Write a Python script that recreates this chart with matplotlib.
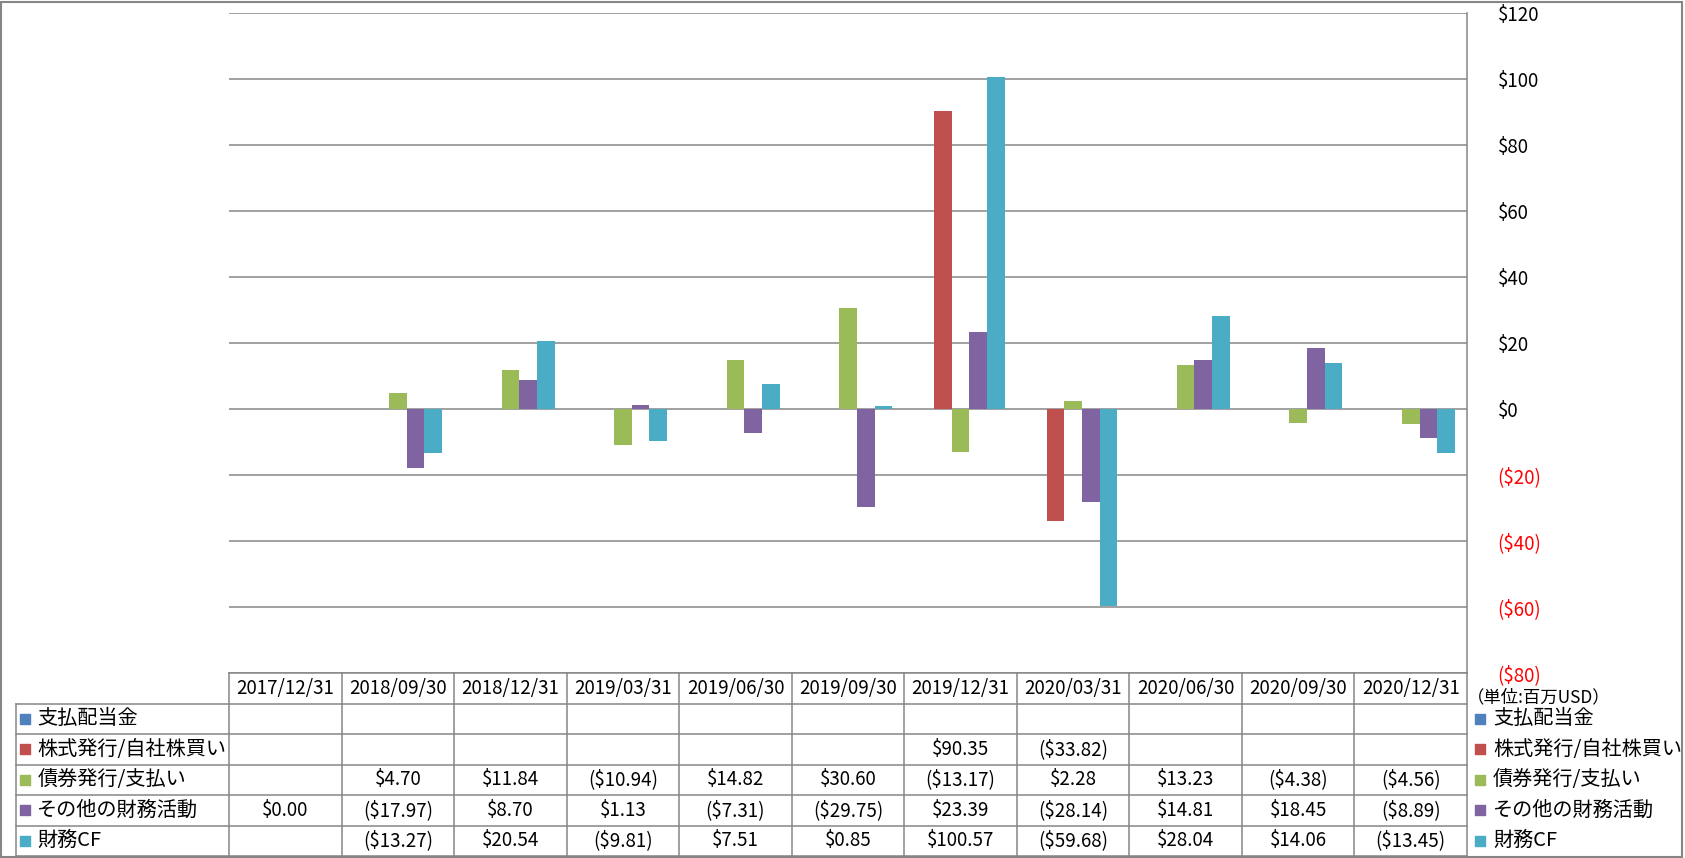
import numpy as np
import matplotlib.pyplot as plt
from matplotlib.patches import Rectangle

plt.rcParams['font.family'] = ['Noto Sans CJK JP', 'DejaVu Sans']

# data (百万USD)
dates = ['2017/12/31', '2018/09/30', '2018/12/31', '2019/03/31', '2019/06/30', '2019/09/30',
         '2019/12/31', '2020/03/31', '2020/06/30', '2020/09/30', '2020/12/31']
nan = np.nan
dividends = [nan] * 11
stock = [nan, nan, nan, nan, nan, nan, 90.35, -33.82, nan, nan, nan]
bonds = [nan, 4.70, 11.84, -10.94, 14.82, 30.60, -13.17, 2.28, 13.23, -4.38, -4.56]
other = [0.00, -17.97, 8.70, 1.13, -7.31, -29.75, 23.39, -28.14, 14.81, 18.45, -8.89]
fin_cf = [nan, -13.27, 20.54, -9.81, 7.51, 0.85, 100.57, -59.68, 28.04, 14.06, -13.45]

series_names = ['支払配当金', '株式発行/自社株買い', '債券発行/支払い', 'その他の財務活動', '財務CF']
series_vals = [dividends, stock, bonds, other, fin_cf]
colors = ['#4F81BD', '#C0504D', '#9BBB59', '#8064A2', '#4BACC6']

grid_c = '#868686'
W, H = 1685, 858
fig = plt.figure(figsize=(W / 100, H / 100), dpi=100)

# outer border
fig.patches.append(Rectangle((0.0005, 0.001), 0.998, 0.997, transform=fig.transFigure,
                             fill=False, edgecolor=grid_c, linewidth=1.5))

x0, x1 = 229 / W, 1467 / W
ax = fig.add_axes([x0, 1 - 673 / H, x1 - x0, (673 - 13) / H])
n = len(dates)
x = np.arange(n)
bw = 0.157
for k, (vals, c) in enumerate(zip(series_vals, colors)):
    ax.bar(x + (k - 2) * bw, vals, width=bw, color=c, zorder=3)

ax.set_xlim(-0.5, n - 0.5)
ax.set_ylim(-80, 120)
yt = np.arange(-80, 121, 20)
ax.set_yticks(yt)
ax.set_yticklabels([f'${v}' if v >= 0 else f'(${-v})' for v in yt])
ax.yaxis.tick_right()
ax.tick_params(axis='y', length=0, pad=22, labelsize=13.5)
for lab, v in zip(ax.get_yticklabels(), yt):
    lab.set_horizontalalignment('left')
    lab.set_color('black' if v >= 0 else '#FF0000')
ax.set_xticks([])
ax.grid(axis='y', color=grid_c, linewidth=1.1, zorder=0)
for s in ['top', 'left', 'bottom']:
    ax.spines[s].set_visible(False)
ax.spines['right'].set_color(grid_c)
ax.spines['right'].set_linewidth(1.1)

# data table under the chart
lw_cols = (229 - 16) / 112.5
tx0 = 16 / W
tab = fig.add_axes([tx0, 2 / H, x1 - tx0, (858 - 673 - 2) / H])
tab.set_xlim(-0.5 - lw_cols, n - 0.5)
tab.set_ylim(0, 6)
tab.axis('off')

lk = dict(color=grid_c, linewidth=1.1, clip_on=False)
tab.plot([-0.5, n - 0.5], [6, 6], **lk)
for r in range(6):
    tab.plot([-0.5 - lw_cols, n - 0.5], [r, r], **lk)
tab.plot([-0.5 - lw_cols, -0.5 - lw_cols], [0, 5], **lk)
for i in range(n + 1):
    tab.plot([i - 0.5, i - 0.5], [0, 6], **lk)

for i, d in enumerate(dates):
    tab.text(i, 5.5, d, ha='center', va='center', fontsize=13.5)


def fmt(v):
    if np.isnan(v):
        return ''
    return f'${v:.2f}' if v >= 0 else f'(${-v:.2f})'


for k, (name, vals, c) in enumerate(zip(series_names, series_vals, colors)):
    yc = 4.5 - k
    tab.scatter([-0.5 - lw_cols + 0.08], [yc], marker='s', s=62, color=c, clip_on=False)
    tab.text(-0.5 - lw_cols + 0.19, yc, name, ha='left', va='center', fontsize=14.5)
    for i, v in enumerate(vals):
        tab.text(i, yc, fmt(v), ha='center', va='center', fontsize=13.5)
    # legend on the right
    tab.scatter([n - 0.5 + 0.115], [yc], marker='s', s=62, color=c, clip_on=False)
    tab.text(n - 0.5 + 0.23, yc, name, ha='left', va='center', fontsize=14.5, clip_on=False)

tab.text(n - 0.5 + 0.0, 5.2, '（単位:百万USD）', ha='left', va='center', fontsize=12.5)

fig.savefig('out.png', dpi=100)
